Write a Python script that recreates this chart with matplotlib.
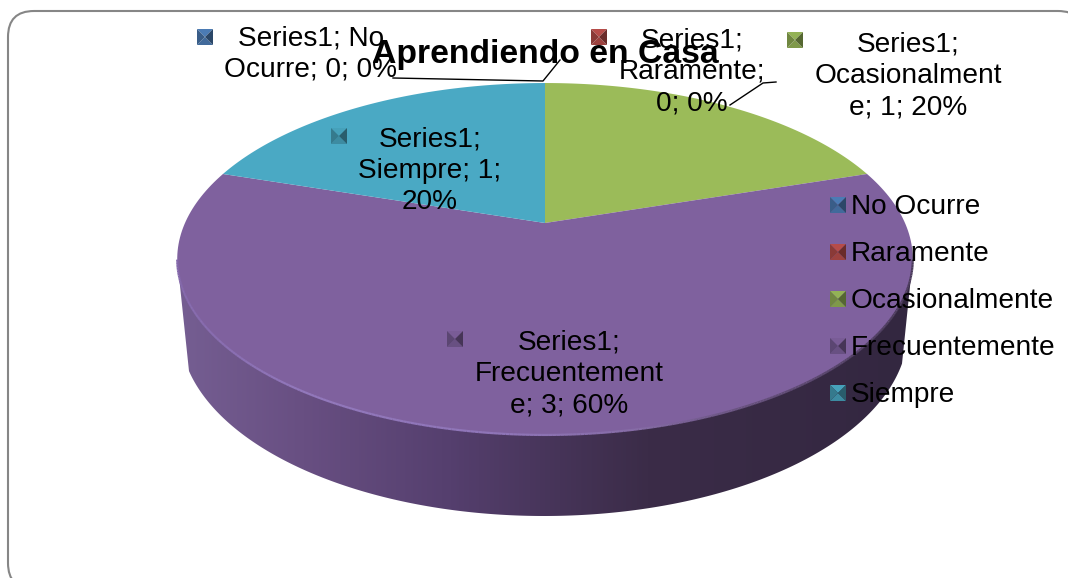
import numpy as np
import matplotlib
matplotlib.use('Agg')
import matplotlib.pyplot as plt
from matplotlib.collections import LineCollection
from matplotlib.colors import LinearSegmentedColormap, to_rgb
from matplotlib.patches import FancyBboxPatch, Polygon

plt.rcParams['font.family'] = ['Liberation Sans', 'DejaVu Sans']

title = 'Aprendiendo en Casa'
series = 'Series1'
categories = ['No Ocurre', 'Raramente', 'Ocasionalmente', 'Frecuentemente', 'Siempre']
values = [0, 0, 1, 3, 1]
colors = ['#4f81bd', '#c0504d', '#9bbb59', '#7f619e', '#4aa9c4']
# where the old chart happens to wrap each label, {0}=series {1}=value {2}=percent
label_wraps = ['{0}; No\nOcurre; {1}; {2}%',
               '{0};\nRaramente;\n{1}; {2}%',
               '{0};\nOcasionalment\ne; {1}; {2}%',
               '{0};\nFrecuentement\ne; {1}; {2}%',
               '{0};\nSiempre; {1};\n{2}%']

# layout, in pixels of the picture
apex = (545, 223)
persp = 0.2045
rx, ry = 360, 168.6
low_c = (544, 330)
low_a, low_b = 364, 186
label_pos = [(311, 54), (692, 72), (908, 76), (569, 374), (430, 171)]
key_pos = [(205, 37), (599, 37), (795, 40), (455, 339), (339, 136)]
legend_x = 838
legend_y = 205
legend_step = 47


def project(theta):  # angle clockwise from the top of the pie -> pixel position
	u, v = np.sin(theta), np.cos(theta)
	d = 1 + persp * v
	return apex[0] + rx * u / d, apex[1] - ry * v / d


def bevel_key(ax, cx, cy, col, size=8):  # the little pyramid squares of the old chart
	c = np.array(to_rgb(col))
	l, r, t, b = cx - size, cx + size, cy - size, cy + size
	inner = (cx, cy)
	faces = [([(l, t), (r, t), inner], c * 0.95),
	         ([(l, b), (r, b), inner], c * 0.82),
	         ([(l, t), (l, b), inner], c * 0.72),
	         ([(r, t), (r, b), inner], c * 0.55)]
	for pts, fc in faces:
		ax.add_patch(Polygon(pts, closed=True, fc=fc, ec='none', zorder=6))


fig = plt.figure(figsize=(10.68, 5.78), dpi=100)
ax = fig.add_axes([0, 0, 1, 1])
ax.set_xlim(0, 1068)
ax.set_ylim(578, 0)
ax.axis('off')

ax.add_patch(FancyBboxPatch((8, 11), 1076, 578, boxstyle='round,pad=0,rounding_size=26',
                            fc='white', ec='#868686', lw=1.5, zorder=0))

# side wall
th = np.linspace(0, 2 * np.pi, 721)
tx, ty = project(th)
left, right = np.argmin(tx), np.argmax(tx)
arc_top = np.arange(right, left + 1)
phi = np.linspace(np.arccos(358 / low_a), np.pi - np.arccos(355 / low_a), 300)
low_x = low_c[0] + low_a * np.cos(phi)
low_y = low_c[1] + low_b * np.sin(phi)
wall = np.vstack([np.column_stack([tx[arc_top], ty[arc_top]]),
                  np.column_stack([low_x[::-1], low_y[::-1]])])
wall_cmap = LinearSegmentedColormap.from_list('wall', [
	(0.0, '#755e92'), (0.17, '#684f82'), (0.37, '#553f6e'), (0.52, '#463458'),
	(0.64, '#3b2c48'), (1.0, '#332740')])
grad = ax.imshow(np.linspace(0, 1, 400).reshape(1, -1), cmap=wall_cmap, aspect='auto',
                 extent=(tx.min(), tx.max(), 530, 250), zorder=1)
grad.set_clip_path(Polygon(wall, closed=True, transform=ax.transData))
ax.set_xlim(0, 1068)
ax.set_ylim(578, 0)

# top face, angles come from the values
edges = np.cumsum([0] + values) / np.sum(values) * 2 * np.pi
for i in range(len(values)):
	if values[i] == 0:
		continue
	a = np.linspace(edges[i], edges[i + 1], 200)
	x, y = project(a)
	ax.fill(np.r_[apex[0], x], np.r_[apex[1], y], color=colors[i], lw=0, zorder=2)

# rim highlight along the front edge
rim_cmap = LinearSegmentedColormap.from_list('rim', [
	(0.0, '#8468ab'), (0.17, '#9278bc'), (0.45, '#8f75b8'), (0.63, '#866ca6'),
	(0.78, '#66507c'), (1.0, '#4a3a5a')])
pts = np.column_stack([tx[arc_top], ty[arc_top]])
segs = np.stack([pts[:-1], pts[1:]], axis=1)
rim = LineCollection(segs, colors=rim_cmap((pts[:-1, 0] - tx.min()) / (tx.max() - tx.min())),
                     lw=1.6, zorder=3)
ax.add_collection(rim)

# leader lines
ax.plot([393, 543, 560], [78, 81, 60], color='black', lw=1.0, zorder=4)
ax.plot([730, 763, 776], [105, 83, 82], color='black', lw=1.0, zorder=4)

ax.text(545, 55, title, fontsize=24.3, fontweight='bold', ha='center', va='center', zorder=5)

total = sum(values)
for i in range(len(values)):
	pct = round(100 * values[i] / total)
	ax.text(label_pos[i][0], label_pos[i][1], label_wraps[i].format(series, values[i], pct),
	        fontsize=20.2, linespacing=1.27, ha='center', va='center', color='black', zorder=7)
	bevel_key(ax, key_pos[i][0], key_pos[i][1], colors[i])

for i in range(len(categories)):
	y = legend_y + i * legend_step
	bevel_key(ax, legend_x, y, colors[i])
	ax.text(legend_x + 13, y + 2, categories[i], fontsize=20.2, ha='left', va='center',
	        color='black', zorder=7)

fig.savefig('out.png', dpi=100)
